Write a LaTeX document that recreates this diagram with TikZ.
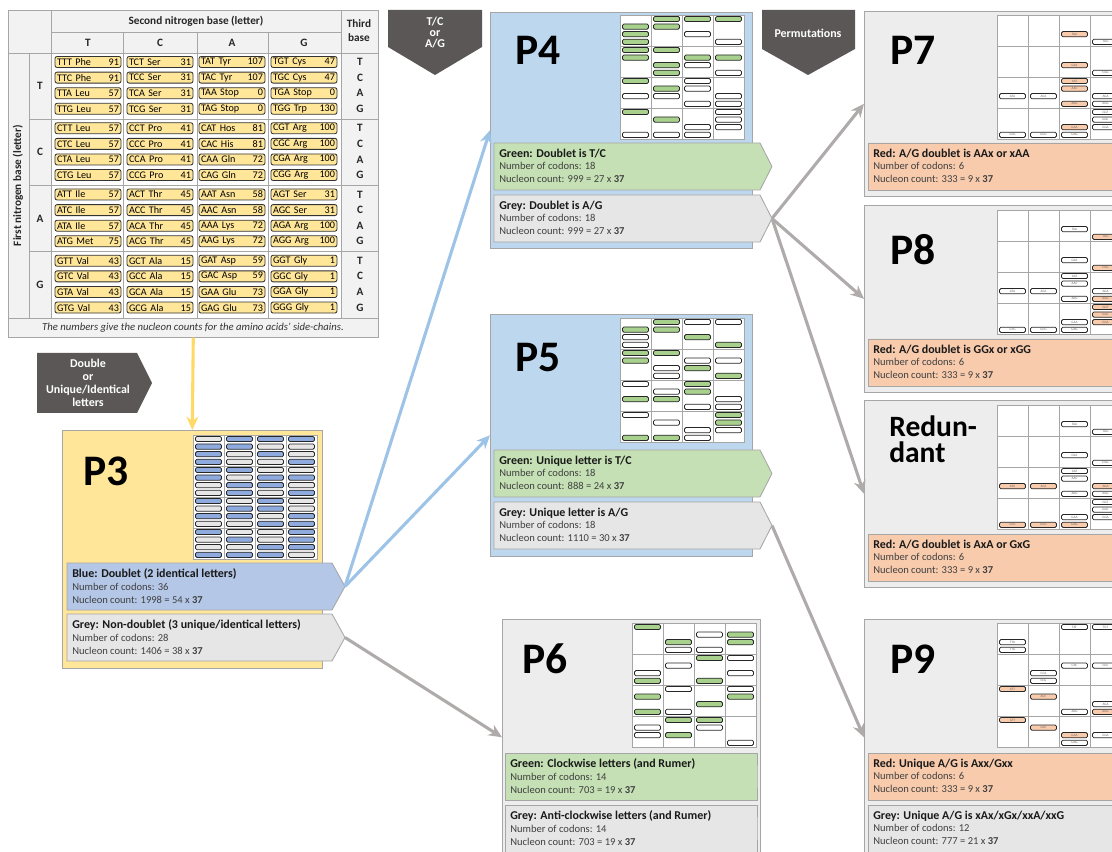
\documentclass[tikz,border=0pt]{standalone}
\usepackage{fontspec}
\setmainfont{Carlito}
\usetikzlibrary{arrows.meta,positioning,calc}
\definecolor{codonyellow}{HTML}{FFE699}
\definecolor{panelblue}{HTML}{BDD7EE}
\definecolor{tagblue}{HTML}{B4C7E7}
\definecolor{barblue}{HTML}{8FAADC}
\definecolor{taggreen}{HTML}{C5E0B4}
\definecolor{bargreen}{HTML}{A9D18E}
\definecolor{tagred}{HTML}{F8CBAD}
\definecolor{panelgrey}{HTML}{EDEDED}
\definecolor{taggrey}{HTML}{E7E6E6}
\definecolor{tablegrey}{HTML}{F2F2F2}
\definecolor{rulegrey}{HTML}{A6A6A6}
\definecolor{labeldark}{HTML}{5B5757}
\definecolor{textdark}{HTML}{404040}
\definecolor{arrowblue}{HTML}{9DC3E6}
\definecolor{arrowgrey}{HTML}{AFABAB}
\definecolor{arrowyellow}{HTML}{FFD966}

\newcommand\pxu{0.025cm}
\newcommand\basel[1]{\ifcase#1\space T\or C\or A\or G\fi}

% 4x4 codon grid: top left #1,#2; #3 gives 0 (no bar), 1 (plain) or 2 (accent)
\newcommand\codongrid[6]{%
  \fill[white] (#1,#2) rectangle ++(124,124);
  \foreach \ci in {0,...,3}{
    \foreach \cj in {0,...,3}{
      \draw[rulegrey] (#1+31*\cj,#2+31*\ci) rectangle ++(31,31);
      \foreach \ck in {0,...,3}{
        \pgfmathtruncatemacro\dsum{(\ci==\cj)+(\cj==\ck)+(\ci==\ck)}
        \pgfmathtruncatemacro\dl{\ci==\cj ? \ci : \ck}
        \pgfmathtruncatemacro\du{\ci==\cj ? \ck : (\cj==\ck ? \ci : \cj)}
        \edef\pa{\ifcase\ci\space 0\or 2\or 3\or 1\fi}
        \edef\pb{\ifcase\cj\space 0\or 2\or 3\or 1\fi}
        \edef\pc{\ifcase\ck\space 0\or 2\or 3\or 1\fi}
        \pgfmathtruncatemacro\cw{((\pa<\pb)&&(\pb<\pc))||((\pb<\pc)&&(\pc<\pa))||((\pc<\pa)&&(\pa<\pb))}
        \pgfmathtruncatemacro\bk{#3}
        \ifnum\bk>0
          \ifnum\bk=2 \def\bcol{#4}\else\def\bcol{#5}\fi
          \node[codonbar, fill=\bcol] at (#1+31*\cj+15.5,#2+31*\ci+4+7.6*\ck)
            {\ifnum#6=1 \basel\ci\basel\cj\basel\ck\fi};
        \fi
      }
    }
  }
}

% result strip: name, x, y, width, point depth, fill, title, codons, count
\newcommand\resulttag[9]{%
  \draw[tagline, fill=#6] (#2,#3) -- ++(#4,0) -- ++(#5,23.5) -- ++(-#5,23.5) -- ++(-#4,0) -- cycle;
  \coordinate (#1) at (#2+#4+#5,#3+23.5);
  \node[tagtext] (#1text) at (#2+5,#3+5.5)
    {{\fontsize{8.5}{9}\selectfont\bfseries\color{black!90}#7}\\Number of codons: #8\\Nucleon count: #9 x \textbf{37}};
}

\begin{document}
\begin{tikzpicture}[x=0.025cm, y=-0.025cm,
  font=\fontsize{7}{8}\selectfont,
  panel/.style={draw=rulegrey, anchor=north west, inner sep=0pt},
  ptitle/.style={font=\fontsize{31}{31}\selectfont\bfseries, anchor=base west, inner sep=0pt},
  tabhead/.style={font=\fontsize{8}{9}\selectfont\bfseries, text=black!85},
  codonbox/.style={draw=black!80, fill=codonyellow, rounded corners=1.5pt, line width=0.6pt,
    minimum width=66*\pxu, text width=62*\pxu, minimum height=11*\pxu, inner xsep=2*\pxu,
    inner ysep=0pt, font=\fontsize{7.2}{7.5}\selectfont},
  codonbar/.style={draw=black!85, rounded corners=1pt, line width=0.55pt, minimum width=26*\pxu,
    minimum height=5.2*\pxu, inner sep=0pt, font=\fontsize{2.4}{2.4}\selectfont, text=black!60},
  tagline/.style={draw=rulegrey, line width=0.6pt},
  tagtext/.style={anchor=north west, align=left, inner sep=0pt, text=textdark,
    font=\fontsize{7.5}{9.1}\selectfont},
  signlabel/.style={align=center, text=white, font=\fontsize{8.5}{9.4}\selectfont\bfseries},
  flow/.style={-{Stealth[length=9.5pt,width=8.5pt]}, line width=2.2pt}
]
\useasboundingbox (0,0) rectangle (1112,852);
\clip (0,0) rectangle (1112,852);

% codon table
\node[panel, fill=tablegrey, minimum width=370*\pxu, minimum height=327*\pxu] (codontable) at (8,10) {};
\fill[white] (51,53) rectangle (341,318);
\draw[rulegrey] (51,10) -- (51,318) (341,10) -- (341,318) (51,32) -- (341,32)
  (8,53) -- (378,53) (8,318) -- (378,318) (29,53) -- (29,318);
\foreach \vx in {123,197,268} \draw[rulegrey] (\vx,32) -- (\vx,318);
\foreach \hy in {119.25,185.5,251.75} \draw[rulegrey] (29,\hy) -- (378,\hy);
\node[tabhead] (second) at (196,21) {Second nitrogen base (letter)};
\node[tabhead, align=center, font=\fontsize{8}{10}\selectfont\bfseries] (third) at (359,31) {Third\\base};
\node[tabhead, rotate=90] (first) at (18,185.5) {First nitrogen base (letter)};
\foreach \b [count=\k from 0] in {T,C,A,G}{
  \node[tabhead] (col\b) at (88+72*\k,43) {\b};
  \node[tabhead] (row\b) at (40,86+66.25*\k) {\b};
  \foreach \t [count=\m from 0] in {T,C,A,G}
    \node[tabhead] (third\b\t) at (360,62+66.25*\k+15.6*\m) {\t};
}
\foreach \cod/\amino/\nuc [count=\n from 0] in {
  TTT/Phe/91, TCT/Ser/31, TAT/Tyr/107, TGT/Cys/47,
  TTC/Phe/91, TCC/Ser/31, TAC/Tyr/107, TGC/Cys/47,
  TTA/Leu/57, TCA/Ser/31, TAA/Stop/0, TGA/Stop/0,
  TTG/Leu/57, TCG/Ser/31, TAG/Stop/0, TGG/Trp/130,
  CTT/Leu/57, CCT/Pro/41, CAT/Hos/81, CGT/Arg/100,
  CTC/Leu/57, CCC/Pro/41, CAC/His/81, CGC/Arg/100,
  CTA/Leu/57, CCA/Pro/41, CAA/Gln/72, CGA/Arg/100,
  CTG/Leu/57, CCG/Pro/41, CAG/Gln/72, CGG/Arg/100,
  ATT/Ile/57, ACT/Thr/45, AAT/Asn/58, AGT/Ser/31,
  ATC/Ile/57, ACC/Thr/45, AAC/Asn/58, AGC/Ser/31,
  ATA/Ile/57, ACA/Thr/45, AAA/Lys/72, AGA/Arg/100,
  ATG/Met/75, ACG/Thr/45, AAG/Lys/72, AGG/Arg/100,
  GTT/Val/43, GCT/Ala/15, GAT/Asp/59, GGT/Gly/1,
  GTC/Val/43, GCC/Ala/15, GAC/Asp/59, GGC/Gly/1,
  GTA/Val/43, GCA/Ala/15, GAA/Glu/73, GGA/Gly/1,
  GTG/Val/43, GCG/Ala/15, GAG/Glu/73, GGG/Gly/1}{
  \pgfmathsetmacro\cx{88+72*mod(\n,4)}
  \pgfmathsetmacro\cy{62+66.25*div(\n,16)+15.6*mod(div(\n,4),4)}
  \node[codonbox] (c\cod) at (\cx,\cy) {\cod\ \amino\hfill\nuc};
}
\node[font=\fontsize{7.6}{8}\selectfont\itshape, text=black!80] (footnote) at (193,327.5)
  {The numbers give the nucleon counts for the amino acids’ side-chains.};

% step labels
\fill[labeldark] (37,353) -- (137,353) -- (152,383) -- (137,413) -- (37,413) -- cycle;
\node[signlabel] (steplettr) at (88,383) {Double\\or\\Unique/Identical\\letters};
\fill[labeldark] (388,10) -- (482,10) -- (482,47) -- (435,75) -- (388,47) -- cycle;
\node[signlabel, font=\fontsize{8.5}{7.8}\selectfont\bfseries] (steptcag) at (435,33) {T/C\\or\\A/G};
\fill[labeldark] (762,10) -- (855,10) -- (855,49) -- (808,75) -- (762,49) -- cycle;
\node[signlabel] (stepperm) at (808,33) {Permutations};

% panels
\node[panel, fill=codonyellow, minimum width=260*\pxu, minimum height=238*\pxu] (p3) at (62,430) {};
\node[panel, fill=panelblue, minimum width=262*\pxu, minimum height=236*\pxu] (p4) at (490,12) {};
\node[panel, fill=panelblue, minimum width=262*\pxu, minimum height=242*\pxu] (p5) at (490,314) {};
\node[panel, fill=panelgrey, minimum width=258*\pxu, minimum height=236*\pxu] (p6) at (502,619) {};
\node[panel, fill=panelgrey, minimum width=260*\pxu, minimum height=185*\pxu] (p7) at (864,11) {};
\node[panel, fill=panelgrey, minimum width=260*\pxu, minimum height=187*\pxu] (p8) at (864,205) {};
\node[panel, fill=panelgrey, minimum width=260*\pxu, minimum height=187*\pxu] (pred) at (864,400) {};
\node[panel, fill=panelgrey, minimum width=260*\pxu, minimum height=236*\pxu] (p9) at (864,619) {};

\node[ptitle] (p3title) at (83,486) {P3};
\node[ptitle] (p4title) at (515,65) {P4};
\node[ptitle] (p5title) at (515,372) {P5};
\node[ptitle] (p6title) at (522,673) {P6};
\node[ptitle] (p7title) at (890,65) {P7};
\node[ptitle] (p8title) at (890,265) {P8};
\node[ptitle, align=left, font=\fontsize{21}{18.5}\selectfont\bfseries] (predtitle) at (889,463) {Redun-\\dant};
\node[ptitle] (p9title) at (890,673) {P9};

% codon grids
\codongrid{193}{435}{\dsum==1 ? 2 : 1}{barblue}{taggrey}{0}
\codongrid{620}{15}{\dsum==1 ? (\dl<2 ? 2 : 1) : 0}{bargreen}{white}{0}
\codongrid{620}{318}{\dsum==1 ? (\du<2 ? 2 : 1) : 0}{bargreen}{white}{0}
\codongrid{632}{623}{\dsum==1 ? 0 : (\dsum==3 ? (mod(\ci,2)==0 ? 2 : 1) : (\cw ? 2 : 1))}{bargreen}{white}{0}
\codongrid{997}{15}{(\dsum==1 && \dl>1) ? ((\dl==2 && \ci!=\ck) ? 2 : 1) : 0}{tagred}{white}{1}
\codongrid{997}{210}{(\dsum==1 && \dl>1) ? ((\dl==3 && \ci!=\ck) ? 2 : 1) : 0}{tagred}{white}{1}
\codongrid{997}{405}{(\dsum==1 && \dl>1) ? (\ci==\ck ? 2 : 1) : 0}{tagred}{white}{1}
\codongrid{997}{623}{(\dsum==1 && \du>1) ? (\cj==\ck ? 2 : 1) : 0}{tagred}{white}{1}

% result strips
\resulttag{p3blue}{67}{563}{265}{13}{tagblue}{Blue: Doublet (2 identical letters)}{36}{1998 = 54}
\resulttag{p3grey}{67}{614}{265}{13}{taggrey}{Grey: Non-doublet (3 unique/identical letters)}{28}{1406 = 38}
\resulttag{p4green}{494}{143}{266}{12}{taggreen}{Green: Doublet is T/C}{18}{999 = 27}
\resulttag{p4grey}{494}{195}{266}{12}{taggrey}{Grey: Doublet is A/G}{18}{999 = 27}
\resulttag{p5green}{494}{450}{266}{12}{taggreen}{Green: Unique letter is T/C}{18}{888 = 24}
\resulttag{p5grey}{494}{502}{266}{12}{taggrey}{Grey: Unique letter is A/G}{18}{1110 = 30}
\resulttag{p6green}{505}{753}{252}{0}{taggreen}{Green: Clockwise letters (and Rumer)}{14}{703 = 19}
\resulttag{p6grey}{505}{805}{252}{0}{taggrey}{Grey: Anti-clockwise letters (and Rumer)}{14}{703 = 19}
\resulttag{p7red}{868}{143}{260}{0}{tagred}{Red: A/G doublet is AAx or xAA}{6}{333 = 9}
\resulttag{p8red}{868}{339}{260}{0}{tagred}{Red: A/G doublet is GGx or xGG}{6}{333 = 9}
\resulttag{predred}{868}{534}{260}{0}{tagred}{Red: A/G doublet is AxA or GxG}{6}{333 = 9}
\resulttag{p9red}{868}{753}{260}{0}{tagred}{Red: Unique A/G is Axx/Gxx}{6}{333 = 9}
\resulttag{p9grey}{868}{805}{260}{0}{taggrey}{Grey: Unique A/G is xAx/xGx/xxA/xxG}{12}{777 = 21}

% connectors
\draw[flow, arrowyellow] (codontable.south) -- (p3.north);
\draw[flow, arrowblue] (p3blue) -- (p4.west);
\draw[flow, arrowblue] (p3blue) -- (p5.west);
\draw[flow, arrowgrey] (p3grey) -- (p6.west);
\draw[flow, arrowgrey] (p4grey) -- (p7.west);
\draw[flow, arrowgrey] (p4grey) -- (p8.west);
\draw[flow, arrowgrey] (p4grey) -- (pred.west);
\draw[flow, arrowgrey] (p5grey) -- (p9.west);
\end{tikzpicture}
\end{document}
